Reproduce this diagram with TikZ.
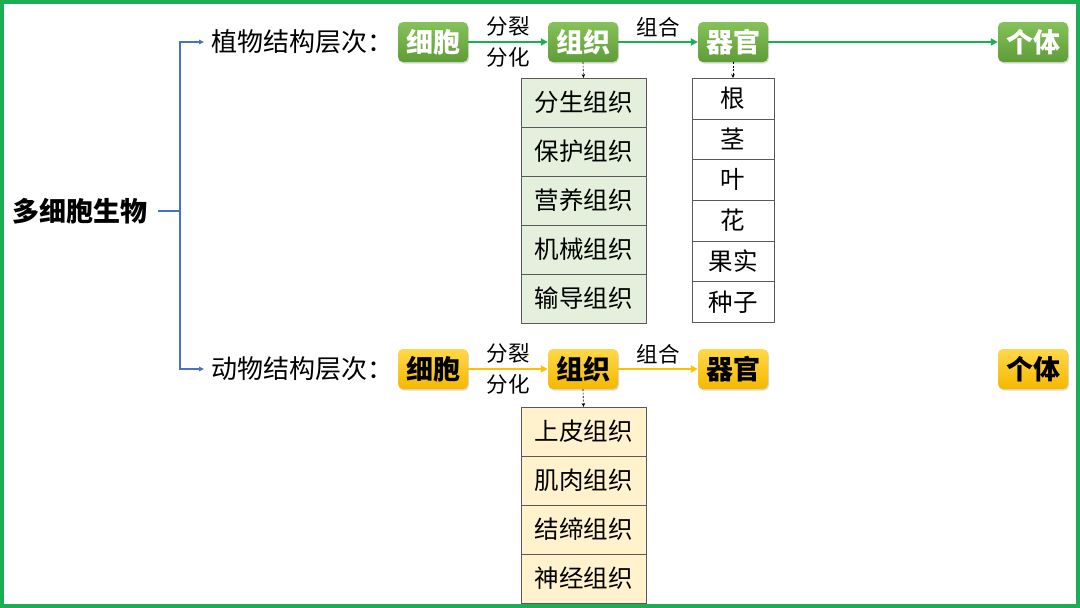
\documentclass[tikz,border=0pt]{standalone}
\usepackage{fontspec}
\setmainfont{Noto Sans CJK SC}
\usetikzlibrary{arrows.meta,shadows,positioning}
\definecolor{frgreen}{HTML}{1AAF54}
\definecolor{lnblue}{HTML}{4472C4}
\definecolor{gtop}{HTML}{86C25A}
\definecolor{gbot}{HTML}{5E9C37}
\definecolor{ytop}{HTML}{FFD84A}
\definecolor{ybot}{HTML}{F5B800}
\definecolor{yline}{HTML}{FFC000}
\definecolor{gcell}{HTML}{E4EFDC}
\definecolor{ycell}{HTML}{FFF2CC}
\begin{document}
\begin{tikzpicture}[x=1pt,y=-1pt,
  lvl/.style={anchor=west,inner xsep=7pt,font=\fontsize{26}{26}\selectfont},
  sbox/.style={rounded corners=5pt,minimum width=70pt,minimum height=40pt,inner sep=0pt,
    font=\fontsize{27}{27}\selectfont\bfseries,drop shadow={shadow xshift=1pt,shadow yshift=-1.5pt,opacity=0.3}},
  pbox/.style={sbox,top color=gtop,bottom color=gbot,text=white},
  abox/.style={sbox,top color=ytop,bottom color=ybot,text=black},
  cell/.style={draw=black!65,outer sep=0pt,minimum width=125pt,minimum height=49pt,font=\fontsize{24.5}{24.5}\selectfont},
  ocell/.style={cell,minimum width=82pt,minimum height=40.7pt,fill=white},
  lab/.style={font=\fontsize{21.5}{21.5}\selectfont,text=black,inner sep=4pt},
  garr/.style={frgreen,line width=2.5pt,-{Triangle[length=7pt,width=7pt]}},
  yarr/.style={yline,line width=2.5pt,-{Triangle[length=7pt,width=7pt]}},
  darr/.style={black,line width=0.6pt,dash pattern=on 2pt off 1.5pt,-{Stealth[length=4pt,width=3.5pt]}}]
\useasboundingbox (0,0) rectangle (1080,608);
\draw[frgreen,line width=4pt] (2,2) rectangle (1078,606);
% root and the two branches
\node[font=\fontsize{27}{27}\selectfont\bfseries,inner sep=10pt] (root) at (80,211) {多细胞生物};
\node[lvl] (plant) at (204,42) {植物结构层次：};
\node[lvl] (animal) at (204,369) {动物结构层次：};
\coordinate (fork) at (180,211);
\draw[lnblue,line width=1.5pt] (root.east) -- (fork);
\draw[lnblue,line width=1.5pt,-{Triangle[length=5pt,width=4.5pt]}] (fork) |- (plant.west);
\draw[lnblue,line width=1.5pt,-{Triangle[length=5pt,width=4.5pt]}] (fork) |- (animal.west);
% plant row
\node[pbox] (pcell) at (433,42) {细胞}; \node[pbox] (ptis) at (583,42) {组织};
\node[pbox] (porg) at (733,42) {器官}; \node[pbox] (pind) at (1033,42) {个体};
\draw[garr] (pcell) -- node[lab,above] {分裂} node[lab,below] {分化} (ptis);
\draw[garr] (ptis) -- node[lab,above] {组合} (porg);
\draw[garr] (porg) -- (pind);
% plant tissues and organs
\node[cell,fill=gcell] (pt1) at (583.5,102.5) {分生组织};
\node[cell,fill=gcell,below=0pt of pt1] (pt2) {保护组织};
\node[cell,fill=gcell,below=0pt of pt2] (pt3) {营养组织};
\node[cell,fill=gcell,below=0pt of pt3] (pt4) {机械组织};
\node[cell,fill=gcell,below=0pt of pt4] (pt5) {输导组织};
\node[ocell] (po1) at (733,98.4) {根};
\node[ocell,below=0pt of po1] (po2) {茎};
\node[ocell,below=0pt of po2] (po3) {叶};
\node[ocell,below=0pt of po3] (po4) {花};
\node[ocell,below=0pt of po4] (po5) {果实};
\node[ocell,below=0pt of po5] (po6) {种子};
\draw[darr] (ptis.south) -- (pt1.north);
\draw[darr] (porg.south) -- (po1.north);
% animal row
\node[abox] (acell) at (433,369) {细胞}; \node[abox] (atis) at (583,369) {组织};
\node[abox] (aorg) at (733,369) {器官}; \node[abox] (aind) at (1033,369) {个体};
\draw[yarr] (acell) -- node[lab,above] {分裂} node[lab,below] {分化} (atis);
\draw[yarr] (atis) -- node[lab,above] {组合} (aorg);
% animal tissues
\node[cell,fill=ycell] (at1) at (583.5,431.5) {上皮组织};
\node[cell,fill=ycell,below=0pt of at1] (at2) {肌肉组织};
\node[cell,fill=ycell,below=0pt of at2] (at3) {结缔组织};
\node[cell,fill=ycell,below=0pt of at3] (at4) {神经组织};
\draw[darr] (atis.south) -- (at1.north);
\end{tikzpicture}
\end{document}
